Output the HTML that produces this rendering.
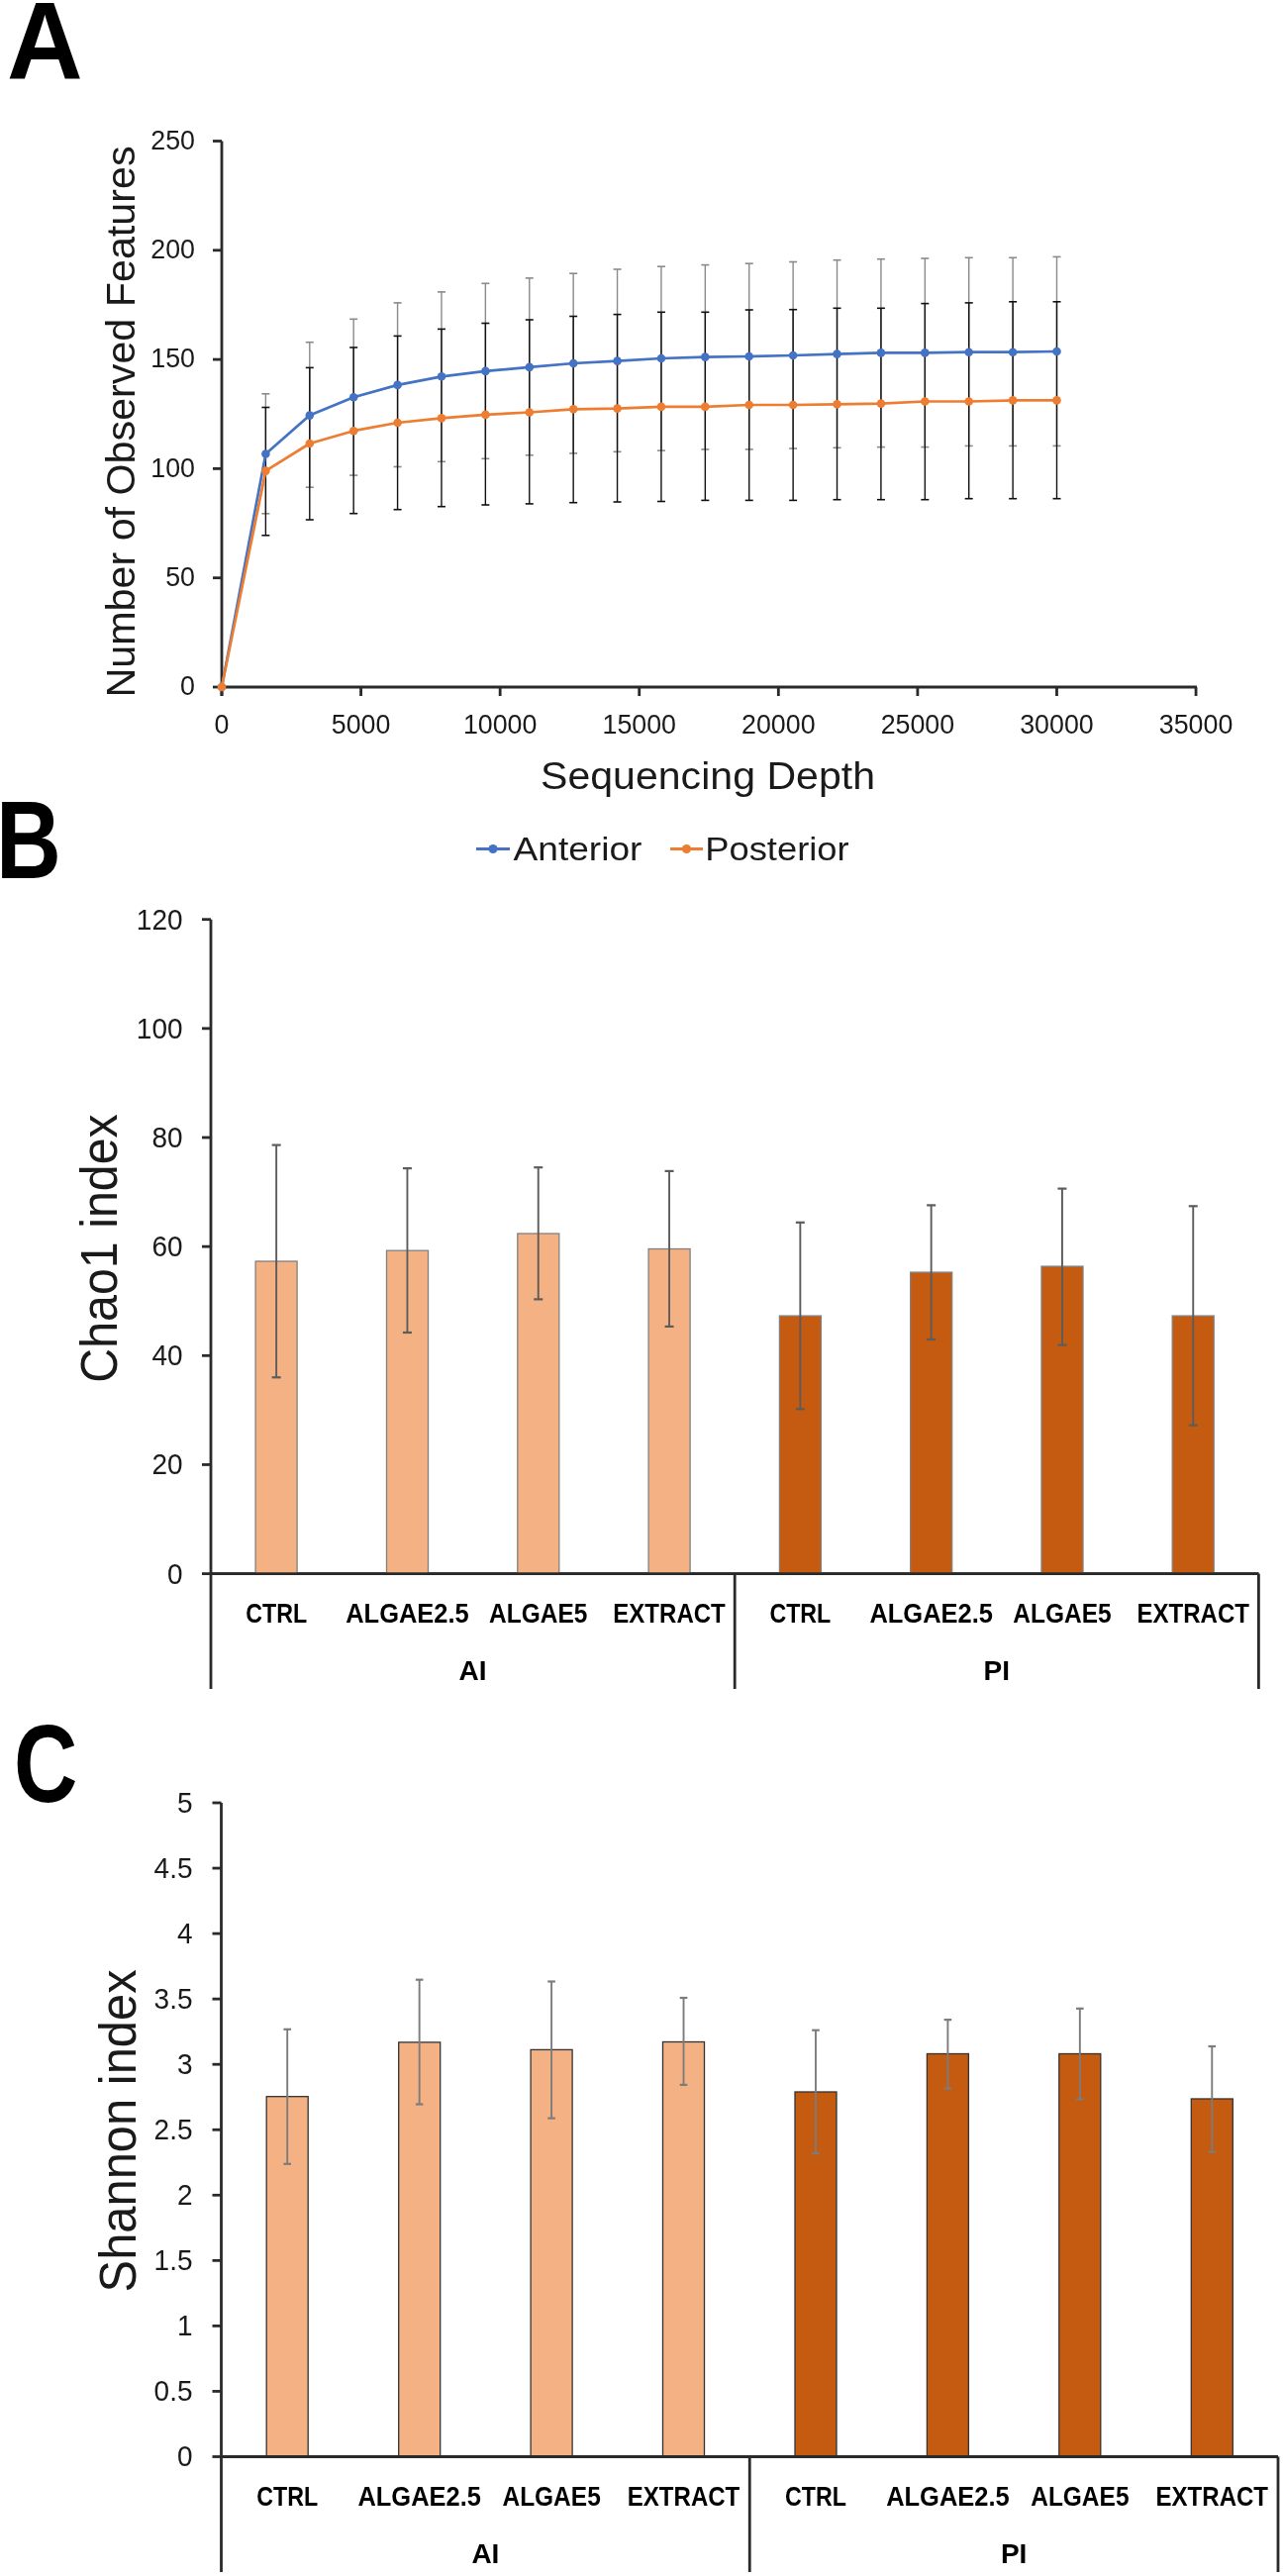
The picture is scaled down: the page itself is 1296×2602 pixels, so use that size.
<!DOCTYPE html>
<html><head><meta charset="utf-8"><title>Figure</title>
<style>
html,body{margin:0;padding:0;background:#fff;}
svg{display:block;will-change:transform;font-family:"Liberation Sans", sans-serif;}
</style></head>
<body>
<svg width="1296" height="2602" viewBox="0 0 1296 2602">
<rect x="0" y="0" width="1296" height="2602" fill="#fff"/>
<text font-size="112" text-anchor="start" fill="#000" font-weight="bold" transform="translate(7.00 80.00) scale(0.9480 1)">A</text>
<text font-size="112" text-anchor="start" fill="#000" font-weight="bold" transform="translate(-4.00 887.00) scale(0.8140 1)">B</text>
<text font-size="110.5" text-anchor="start" fill="#000" font-weight="bold" transform="translate(14.00 1820.00) scale(0.8070 1)">C</text>
<line x1="224.00" y1="142.50" x2="224.00" y2="703.00" stroke="#2a2a2a" stroke-width="2.8"/>
<line x1="224.00" y1="694.00" x2="1209.00" y2="694.00" stroke="#2a2a2a" stroke-width="2.8"/>
<line x1="215.00" y1="694.00" x2="224.00" y2="694.00" stroke="#2a2a2a" stroke-width="2.8"/>
<text font-size="27.8" text-anchor="end" fill="#1a1a1a" transform="translate(197.00 702.20) scale(0.9650 1)">0</text>
<line x1="215.00" y1="583.70" x2="224.00" y2="583.70" stroke="#2a2a2a" stroke-width="2.8"/>
<text font-size="27.8" text-anchor="end" fill="#1a1a1a" transform="translate(197.00 591.90) scale(0.9650 1)">50</text>
<line x1="215.00" y1="473.40" x2="224.00" y2="473.40" stroke="#2a2a2a" stroke-width="2.8"/>
<text font-size="27.8" text-anchor="end" fill="#1a1a1a" transform="translate(197.00 481.60) scale(0.9650 1)">100</text>
<line x1="215.00" y1="363.10" x2="224.00" y2="363.10" stroke="#2a2a2a" stroke-width="2.8"/>
<text font-size="27.8" text-anchor="end" fill="#1a1a1a" transform="translate(197.00 371.30) scale(0.9650 1)">150</text>
<line x1="215.00" y1="252.80" x2="224.00" y2="252.80" stroke="#2a2a2a" stroke-width="2.8"/>
<text font-size="27.8" text-anchor="end" fill="#1a1a1a" transform="translate(197.00 261.00) scale(0.9650 1)">200</text>
<line x1="215.00" y1="142.50" x2="224.00" y2="142.50" stroke="#2a2a2a" stroke-width="2.8"/>
<text font-size="27.8" text-anchor="end" fill="#1a1a1a" transform="translate(197.00 150.70) scale(0.9650 1)">250</text>
<line x1="224.00" y1="694.00" x2="224.00" y2="703.00" stroke="#2a2a2a" stroke-width="2.8"/>
<text font-size="27.8" text-anchor="middle" fill="#1a1a1a" transform="translate(224.00 741.00) scale(0.9650 1)">0</text>
<line x1="364.58" y1="694.00" x2="364.58" y2="703.00" stroke="#2a2a2a" stroke-width="2.8"/>
<text font-size="27.8" text-anchor="middle" fill="#1a1a1a" transform="translate(364.58 741.00) scale(0.9650 1)">5000</text>
<line x1="505.16" y1="694.00" x2="505.16" y2="703.00" stroke="#2a2a2a" stroke-width="2.8"/>
<text font-size="27.8" text-anchor="middle" fill="#1a1a1a" transform="translate(505.16 741.00) scale(0.9650 1)">10000</text>
<line x1="645.74" y1="694.00" x2="645.74" y2="703.00" stroke="#2a2a2a" stroke-width="2.8"/>
<text font-size="27.8" text-anchor="middle" fill="#1a1a1a" transform="translate(645.74 741.00) scale(0.9650 1)">15000</text>
<line x1="786.32" y1="694.00" x2="786.32" y2="703.00" stroke="#2a2a2a" stroke-width="2.8"/>
<text font-size="27.8" text-anchor="middle" fill="#1a1a1a" transform="translate(786.32 741.00) scale(0.9650 1)">20000</text>
<line x1="926.90" y1="694.00" x2="926.90" y2="703.00" stroke="#2a2a2a" stroke-width="2.8"/>
<text font-size="27.8" text-anchor="middle" fill="#1a1a1a" transform="translate(926.90 741.00) scale(0.9650 1)">25000</text>
<line x1="1067.48" y1="694.00" x2="1067.48" y2="703.00" stroke="#2a2a2a" stroke-width="2.8"/>
<text font-size="27.8" text-anchor="middle" fill="#1a1a1a" transform="translate(1067.48 741.00) scale(0.9650 1)">30000</text>
<line x1="1208.06" y1="694.00" x2="1208.06" y2="703.00" stroke="#2a2a2a" stroke-width="2.8"/>
<text font-size="27.8" text-anchor="middle" fill="#1a1a1a" transform="translate(1208.06 741.00) scale(0.9650 1)">35000</text>
<line x1="268.39" y1="397.80" x2="268.39" y2="518.80" stroke="#8a8a8a" stroke-width="1.4"/>
<line x1="264.39" y1="397.80" x2="272.39" y2="397.80" stroke="#8a8a8a" stroke-width="1.6"/>
<line x1="264.39" y1="518.80" x2="272.39" y2="518.80" stroke="#8a8a8a" stroke-width="1.6"/>
<line x1="312.79" y1="345.70" x2="312.79" y2="492.20" stroke="#8a8a8a" stroke-width="1.4"/>
<line x1="308.79" y1="345.70" x2="316.79" y2="345.70" stroke="#8a8a8a" stroke-width="1.6"/>
<line x1="308.79" y1="492.20" x2="316.79" y2="492.20" stroke="#8a8a8a" stroke-width="1.6"/>
<line x1="357.18" y1="322.30" x2="357.18" y2="480.10" stroke="#8a8a8a" stroke-width="1.4"/>
<line x1="353.18" y1="322.30" x2="361.18" y2="322.30" stroke="#8a8a8a" stroke-width="1.6"/>
<line x1="353.18" y1="480.10" x2="361.18" y2="480.10" stroke="#8a8a8a" stroke-width="1.6"/>
<line x1="401.58" y1="305.90" x2="401.58" y2="471.50" stroke="#8a8a8a" stroke-width="1.4"/>
<line x1="397.58" y1="305.90" x2="405.58" y2="305.90" stroke="#8a8a8a" stroke-width="1.6"/>
<line x1="397.58" y1="471.50" x2="405.58" y2="471.50" stroke="#8a8a8a" stroke-width="1.6"/>
<line x1="445.97" y1="294.90" x2="445.97" y2="466.30" stroke="#8a8a8a" stroke-width="1.4"/>
<line x1="441.97" y1="294.90" x2="449.97" y2="294.90" stroke="#8a8a8a" stroke-width="1.6"/>
<line x1="441.97" y1="466.30" x2="449.97" y2="466.30" stroke="#8a8a8a" stroke-width="1.6"/>
<line x1="490.37" y1="286.30" x2="490.37" y2="463.30" stroke="#8a8a8a" stroke-width="1.4"/>
<line x1="486.37" y1="286.30" x2="494.37" y2="286.30" stroke="#8a8a8a" stroke-width="1.6"/>
<line x1="486.37" y1="463.30" x2="494.37" y2="463.30" stroke="#8a8a8a" stroke-width="1.6"/>
<line x1="534.76" y1="280.90" x2="534.76" y2="459.80" stroke="#8a8a8a" stroke-width="1.4"/>
<line x1="530.76" y1="280.90" x2="538.76" y2="280.90" stroke="#8a8a8a" stroke-width="1.6"/>
<line x1="530.76" y1="459.80" x2="538.76" y2="459.80" stroke="#8a8a8a" stroke-width="1.6"/>
<line x1="579.16" y1="276.20" x2="579.16" y2="457.90" stroke="#8a8a8a" stroke-width="1.4"/>
<line x1="575.16" y1="276.20" x2="583.16" y2="276.20" stroke="#8a8a8a" stroke-width="1.6"/>
<line x1="575.16" y1="457.90" x2="583.16" y2="457.90" stroke="#8a8a8a" stroke-width="1.6"/>
<line x1="623.55" y1="272.00" x2="623.55" y2="456.30" stroke="#8a8a8a" stroke-width="1.4"/>
<line x1="619.55" y1="272.00" x2="627.55" y2="272.00" stroke="#8a8a8a" stroke-width="1.6"/>
<line x1="619.55" y1="456.30" x2="627.55" y2="456.30" stroke="#8a8a8a" stroke-width="1.6"/>
<line x1="667.95" y1="269.20" x2="667.95" y2="455.10" stroke="#8a8a8a" stroke-width="1.4"/>
<line x1="663.95" y1="269.20" x2="671.95" y2="269.20" stroke="#8a8a8a" stroke-width="1.6"/>
<line x1="663.95" y1="455.10" x2="671.95" y2="455.10" stroke="#8a8a8a" stroke-width="1.6"/>
<line x1="712.34" y1="267.60" x2="712.34" y2="453.90" stroke="#8a8a8a" stroke-width="1.4"/>
<line x1="708.34" y1="267.60" x2="716.34" y2="267.60" stroke="#8a8a8a" stroke-width="1.6"/>
<line x1="708.34" y1="453.90" x2="716.34" y2="453.90" stroke="#8a8a8a" stroke-width="1.6"/>
<line x1="756.74" y1="266.20" x2="756.74" y2="453.90" stroke="#8a8a8a" stroke-width="1.4"/>
<line x1="752.74" y1="266.20" x2="760.74" y2="266.20" stroke="#8a8a8a" stroke-width="1.6"/>
<line x1="752.74" y1="453.90" x2="760.74" y2="453.90" stroke="#8a8a8a" stroke-width="1.6"/>
<line x1="801.13" y1="264.50" x2="801.13" y2="453.00" stroke="#8a8a8a" stroke-width="1.4"/>
<line x1="797.13" y1="264.50" x2="805.13" y2="264.50" stroke="#8a8a8a" stroke-width="1.6"/>
<line x1="797.13" y1="453.00" x2="805.13" y2="453.00" stroke="#8a8a8a" stroke-width="1.6"/>
<line x1="845.53" y1="262.70" x2="845.53" y2="452.30" stroke="#8a8a8a" stroke-width="1.4"/>
<line x1="841.53" y1="262.70" x2="849.53" y2="262.70" stroke="#8a8a8a" stroke-width="1.6"/>
<line x1="841.53" y1="452.30" x2="849.53" y2="452.30" stroke="#8a8a8a" stroke-width="1.6"/>
<line x1="889.92" y1="261.70" x2="889.92" y2="451.60" stroke="#8a8a8a" stroke-width="1.4"/>
<line x1="885.92" y1="261.70" x2="893.92" y2="261.70" stroke="#8a8a8a" stroke-width="1.6"/>
<line x1="885.92" y1="451.60" x2="893.92" y2="451.60" stroke="#8a8a8a" stroke-width="1.6"/>
<line x1="934.32" y1="261.00" x2="934.32" y2="451.60" stroke="#8a8a8a" stroke-width="1.4"/>
<line x1="930.32" y1="261.00" x2="938.32" y2="261.00" stroke="#8a8a8a" stroke-width="1.6"/>
<line x1="930.32" y1="451.60" x2="938.32" y2="451.60" stroke="#8a8a8a" stroke-width="1.6"/>
<line x1="978.71" y1="260.30" x2="978.71" y2="450.40" stroke="#8a8a8a" stroke-width="1.4"/>
<line x1="974.71" y1="260.30" x2="982.71" y2="260.30" stroke="#8a8a8a" stroke-width="1.6"/>
<line x1="974.71" y1="450.40" x2="982.71" y2="450.40" stroke="#8a8a8a" stroke-width="1.6"/>
<line x1="1023.11" y1="260.30" x2="1023.11" y2="450.40" stroke="#8a8a8a" stroke-width="1.4"/>
<line x1="1019.11" y1="260.30" x2="1027.11" y2="260.30" stroke="#8a8a8a" stroke-width="1.6"/>
<line x1="1019.11" y1="450.40" x2="1027.11" y2="450.40" stroke="#8a8a8a" stroke-width="1.6"/>
<line x1="1067.50" y1="259.40" x2="1067.50" y2="450.40" stroke="#8a8a8a" stroke-width="1.4"/>
<line x1="1063.50" y1="259.40" x2="1071.50" y2="259.40" stroke="#8a8a8a" stroke-width="1.6"/>
<line x1="1063.50" y1="450.40" x2="1071.50" y2="450.40" stroke="#8a8a8a" stroke-width="1.6"/>
<line x1="268.39" y1="411.50" x2="268.39" y2="540.80" stroke="#111" stroke-width="1.4"/>
<line x1="264.39" y1="411.50" x2="272.39" y2="411.50" stroke="#111" stroke-width="1.6"/>
<line x1="264.39" y1="540.80" x2="272.39" y2="540.80" stroke="#111" stroke-width="1.6"/>
<line x1="312.79" y1="371.40" x2="312.79" y2="525.00" stroke="#111" stroke-width="1.4"/>
<line x1="308.79" y1="371.40" x2="316.79" y2="371.40" stroke="#111" stroke-width="1.6"/>
<line x1="308.79" y1="525.00" x2="316.79" y2="525.00" stroke="#111" stroke-width="1.6"/>
<line x1="357.18" y1="351.00" x2="357.18" y2="518.70" stroke="#111" stroke-width="1.4"/>
<line x1="353.18" y1="351.00" x2="361.18" y2="351.00" stroke="#111" stroke-width="1.6"/>
<line x1="353.18" y1="518.70" x2="361.18" y2="518.70" stroke="#111" stroke-width="1.6"/>
<line x1="401.58" y1="339.40" x2="401.58" y2="514.70" stroke="#111" stroke-width="1.4"/>
<line x1="397.58" y1="339.40" x2="405.58" y2="339.40" stroke="#111" stroke-width="1.6"/>
<line x1="397.58" y1="514.70" x2="405.58" y2="514.70" stroke="#111" stroke-width="1.6"/>
<line x1="445.97" y1="332.40" x2="445.97" y2="511.70" stroke="#111" stroke-width="1.4"/>
<line x1="441.97" y1="332.40" x2="449.97" y2="332.40" stroke="#111" stroke-width="1.6"/>
<line x1="441.97" y1="511.70" x2="449.97" y2="511.70" stroke="#111" stroke-width="1.6"/>
<line x1="490.37" y1="326.50" x2="490.37" y2="510.00" stroke="#111" stroke-width="1.4"/>
<line x1="486.37" y1="326.50" x2="494.37" y2="326.50" stroke="#111" stroke-width="1.6"/>
<line x1="486.37" y1="510.00" x2="494.37" y2="510.00" stroke="#111" stroke-width="1.6"/>
<line x1="534.76" y1="323.00" x2="534.76" y2="508.90" stroke="#111" stroke-width="1.4"/>
<line x1="530.76" y1="323.00" x2="538.76" y2="323.00" stroke="#111" stroke-width="1.6"/>
<line x1="530.76" y1="508.90" x2="538.76" y2="508.90" stroke="#111" stroke-width="1.6"/>
<line x1="579.16" y1="319.50" x2="579.16" y2="507.70" stroke="#111" stroke-width="1.4"/>
<line x1="575.16" y1="319.50" x2="583.16" y2="319.50" stroke="#111" stroke-width="1.6"/>
<line x1="575.16" y1="507.70" x2="583.16" y2="507.70" stroke="#111" stroke-width="1.6"/>
<line x1="623.55" y1="317.60" x2="623.55" y2="507.00" stroke="#111" stroke-width="1.4"/>
<line x1="619.55" y1="317.60" x2="627.55" y2="317.60" stroke="#111" stroke-width="1.6"/>
<line x1="619.55" y1="507.00" x2="627.55" y2="507.00" stroke="#111" stroke-width="1.6"/>
<line x1="667.95" y1="315.30" x2="667.95" y2="506.50" stroke="#111" stroke-width="1.4"/>
<line x1="663.95" y1="315.30" x2="671.95" y2="315.30" stroke="#111" stroke-width="1.6"/>
<line x1="663.95" y1="506.50" x2="671.95" y2="506.50" stroke="#111" stroke-width="1.6"/>
<line x1="712.34" y1="315.30" x2="712.34" y2="505.40" stroke="#111" stroke-width="1.4"/>
<line x1="708.34" y1="315.30" x2="716.34" y2="315.30" stroke="#111" stroke-width="1.6"/>
<line x1="708.34" y1="505.40" x2="716.34" y2="505.40" stroke="#111" stroke-width="1.6"/>
<line x1="756.74" y1="313.00" x2="756.74" y2="505.40" stroke="#111" stroke-width="1.4"/>
<line x1="752.74" y1="313.00" x2="760.74" y2="313.00" stroke="#111" stroke-width="1.6"/>
<line x1="752.74" y1="505.40" x2="760.74" y2="505.40" stroke="#111" stroke-width="1.6"/>
<line x1="801.13" y1="312.70" x2="801.13" y2="505.40" stroke="#111" stroke-width="1.4"/>
<line x1="797.13" y1="312.70" x2="805.13" y2="312.70" stroke="#111" stroke-width="1.6"/>
<line x1="797.13" y1="505.40" x2="805.13" y2="505.40" stroke="#111" stroke-width="1.6"/>
<line x1="845.53" y1="311.30" x2="845.53" y2="504.70" stroke="#111" stroke-width="1.4"/>
<line x1="841.53" y1="311.30" x2="849.53" y2="311.30" stroke="#111" stroke-width="1.6"/>
<line x1="841.53" y1="504.70" x2="849.53" y2="504.70" stroke="#111" stroke-width="1.6"/>
<line x1="889.92" y1="311.30" x2="889.92" y2="504.70" stroke="#111" stroke-width="1.4"/>
<line x1="885.92" y1="311.30" x2="893.92" y2="311.30" stroke="#111" stroke-width="1.6"/>
<line x1="885.92" y1="504.70" x2="893.92" y2="504.70" stroke="#111" stroke-width="1.6"/>
<line x1="934.32" y1="306.60" x2="934.32" y2="504.70" stroke="#111" stroke-width="1.4"/>
<line x1="930.32" y1="306.60" x2="938.32" y2="306.60" stroke="#111" stroke-width="1.6"/>
<line x1="930.32" y1="504.70" x2="938.32" y2="504.70" stroke="#111" stroke-width="1.6"/>
<line x1="978.71" y1="305.90" x2="978.71" y2="503.70" stroke="#111" stroke-width="1.4"/>
<line x1="974.71" y1="305.90" x2="982.71" y2="305.90" stroke="#111" stroke-width="1.6"/>
<line x1="974.71" y1="503.70" x2="982.71" y2="503.70" stroke="#111" stroke-width="1.6"/>
<line x1="1023.11" y1="304.80" x2="1023.11" y2="503.70" stroke="#111" stroke-width="1.4"/>
<line x1="1019.11" y1="304.80" x2="1027.11" y2="304.80" stroke="#111" stroke-width="1.6"/>
<line x1="1019.11" y1="503.70" x2="1027.11" y2="503.70" stroke="#111" stroke-width="1.6"/>
<line x1="1067.50" y1="304.80" x2="1067.50" y2="503.70" stroke="#111" stroke-width="1.4"/>
<line x1="1063.50" y1="304.80" x2="1071.50" y2="304.80" stroke="#111" stroke-width="1.6"/>
<line x1="1063.50" y1="503.70" x2="1071.50" y2="503.70" stroke="#111" stroke-width="1.6"/>
<polyline points="224.0,694.0 268.4,458.5 312.8,419.6 357.2,401.3 401.6,388.9 446.0,380.3 490.4,374.9 534.8,370.9 579.2,367.0 623.6,364.6 667.9,362.0 712.3,360.6 756.7,360.0 801.1,359.0 845.5,357.6 889.9,356.4 934.3,356.4 978.7,355.7 1023.1,355.7 1067.5,355.0" fill="none" stroke="#4472C4" stroke-width="2.7" stroke-linejoin="round"/>
<circle cx="224.0" cy="694.0" r="4.3" fill="#4472C4"/>
<circle cx="268.4" cy="458.5" r="4.3" fill="#4472C4"/>
<circle cx="312.8" cy="419.6" r="4.3" fill="#4472C4"/>
<circle cx="357.2" cy="401.3" r="4.3" fill="#4472C4"/>
<circle cx="401.6" cy="388.9" r="4.3" fill="#4472C4"/>
<circle cx="446.0" cy="380.3" r="4.3" fill="#4472C4"/>
<circle cx="490.4" cy="374.9" r="4.3" fill="#4472C4"/>
<circle cx="534.8" cy="370.9" r="4.3" fill="#4472C4"/>
<circle cx="579.2" cy="367.0" r="4.3" fill="#4472C4"/>
<circle cx="623.6" cy="364.6" r="4.3" fill="#4472C4"/>
<circle cx="667.9" cy="362.0" r="4.3" fill="#4472C4"/>
<circle cx="712.3" cy="360.6" r="4.3" fill="#4472C4"/>
<circle cx="756.7" cy="360.0" r="4.3" fill="#4472C4"/>
<circle cx="801.1" cy="359.0" r="4.3" fill="#4472C4"/>
<circle cx="845.5" cy="357.6" r="4.3" fill="#4472C4"/>
<circle cx="889.9" cy="356.4" r="4.3" fill="#4472C4"/>
<circle cx="934.3" cy="356.4" r="4.3" fill="#4472C4"/>
<circle cx="978.7" cy="355.7" r="4.3" fill="#4472C4"/>
<circle cx="1023.1" cy="355.7" r="4.3" fill="#4472C4"/>
<circle cx="1067.5" cy="355.0" r="4.3" fill="#4472C4"/>
<polyline points="224.0,694.0 268.4,475.6 312.8,448.0 357.2,435.2 401.6,427.0 446.0,422.4 490.4,418.9 534.8,416.5 579.2,413.3 623.6,412.6 667.9,410.9 712.3,410.9 756.7,409.0 801.1,409.0 845.5,408.3 889.9,407.6 934.3,405.5 978.7,405.5 1023.1,404.4 1067.5,404.4" fill="none" stroke="#ED7D31" stroke-width="2.7" stroke-linejoin="round"/>
<circle cx="224.0" cy="694.0" r="4.3" fill="#ED7D31"/>
<circle cx="268.4" cy="475.6" r="4.3" fill="#ED7D31"/>
<circle cx="312.8" cy="448.0" r="4.3" fill="#ED7D31"/>
<circle cx="357.2" cy="435.2" r="4.3" fill="#ED7D31"/>
<circle cx="401.6" cy="427.0" r="4.3" fill="#ED7D31"/>
<circle cx="446.0" cy="422.4" r="4.3" fill="#ED7D31"/>
<circle cx="490.4" cy="418.9" r="4.3" fill="#ED7D31"/>
<circle cx="534.8" cy="416.5" r="4.3" fill="#ED7D31"/>
<circle cx="579.2" cy="413.3" r="4.3" fill="#ED7D31"/>
<circle cx="623.6" cy="412.6" r="4.3" fill="#ED7D31"/>
<circle cx="667.9" cy="410.9" r="4.3" fill="#ED7D31"/>
<circle cx="712.3" cy="410.9" r="4.3" fill="#ED7D31"/>
<circle cx="756.7" cy="409.0" r="4.3" fill="#ED7D31"/>
<circle cx="801.1" cy="409.0" r="4.3" fill="#ED7D31"/>
<circle cx="845.5" cy="408.3" r="4.3" fill="#ED7D31"/>
<circle cx="889.9" cy="407.6" r="4.3" fill="#ED7D31"/>
<circle cx="934.3" cy="405.5" r="4.3" fill="#ED7D31"/>
<circle cx="978.7" cy="405.5" r="4.3" fill="#ED7D31"/>
<circle cx="1023.1" cy="404.4" r="4.3" fill="#ED7D31"/>
<circle cx="1067.5" cy="404.4" r="4.3" fill="#ED7D31"/>
<text font-size="40" text-anchor="middle" fill="#1a1a1a" textLength="557" lengthAdjust="spacingAndGlyphs" transform="translate(136.00 426.00) rotate(-90)">Number of Observed Features</text>
<text font-size="39" text-anchor="middle" fill="#1a1a1a" textLength="338" lengthAdjust="spacingAndGlyphs" transform="translate(715.00 796.70)">Sequencing Depth</text>
<line x1="481.00" y1="857.50" x2="515.00" y2="857.50" stroke="#4472C4" stroke-width="3"/>
<circle cx="498" cy="857.5" r="4.6" fill="#4472C4"/>
<text font-size="34" text-anchor="start" fill="#1a1a1a" textLength="130" lengthAdjust="spacingAndGlyphs" transform="translate(518.50 869.00)">Anterior</text>
<line x1="677.00" y1="857.50" x2="710.00" y2="857.50" stroke="#ED7D31" stroke-width="3"/>
<circle cx="693.5" cy="857.5" r="4.6" fill="#ED7D31"/>
<text font-size="34" text-anchor="start" fill="#1a1a1a" textLength="145.5" lengthAdjust="spacingAndGlyphs" transform="translate(712.20 869.00)">Posterior</text>
<line x1="213.00" y1="928.70" x2="213.00" y2="1706.00" stroke="#2a2a2a" stroke-width="2.8"/>
<line x1="213.00" y1="1589.60" x2="1271.40" y2="1589.60" stroke="#2a2a2a" stroke-width="2.8"/>
<line x1="1271.40" y1="1589.60" x2="1271.40" y2="1706.00" stroke="#2a2a2a" stroke-width="2.8"/>
<line x1="742.20" y1="1589.60" x2="742.20" y2="1706.00" stroke="#2a2a2a" stroke-width="2.8"/>
<line x1="204.00" y1="1589.60" x2="213.00" y2="1589.60" stroke="#2a2a2a" stroke-width="2.8"/>
<text font-size="29" text-anchor="end" fill="#1a1a1a" transform="translate(184.50 1599.60) scale(0.9650 1)">0</text>
<line x1="204.00" y1="1479.45" x2="213.00" y2="1479.45" stroke="#2a2a2a" stroke-width="2.8"/>
<text font-size="29" text-anchor="end" fill="#1a1a1a" transform="translate(184.50 1489.45) scale(0.9650 1)">20</text>
<line x1="204.00" y1="1369.30" x2="213.00" y2="1369.30" stroke="#2a2a2a" stroke-width="2.8"/>
<text font-size="29" text-anchor="end" fill="#1a1a1a" transform="translate(184.50 1379.30) scale(0.9650 1)">40</text>
<line x1="204.00" y1="1259.15" x2="213.00" y2="1259.15" stroke="#2a2a2a" stroke-width="2.8"/>
<text font-size="29" text-anchor="end" fill="#1a1a1a" transform="translate(184.50 1269.15) scale(0.9650 1)">60</text>
<line x1="204.00" y1="1149.00" x2="213.00" y2="1149.00" stroke="#2a2a2a" stroke-width="2.8"/>
<text font-size="29" text-anchor="end" fill="#1a1a1a" transform="translate(184.50 1159.00) scale(0.9650 1)">80</text>
<line x1="204.00" y1="1038.85" x2="213.00" y2="1038.85" stroke="#2a2a2a" stroke-width="2.8"/>
<text font-size="29" text-anchor="end" fill="#1a1a1a" transform="translate(184.50 1048.85) scale(0.9650 1)">100</text>
<line x1="204.00" y1="928.70" x2="213.00" y2="928.70" stroke="#2a2a2a" stroke-width="2.8"/>
<text font-size="29" text-anchor="end" fill="#1a1a1a" transform="translate(184.50 938.70) scale(0.9650 1)">120</text>
<rect x="258.1" y="1274.0" width="42" height="315.6" fill="#F4B183" stroke="#808080" stroke-width="1.3"/>
<rect x="390.5" y="1263.2" width="42" height="326.4" fill="#F4B183" stroke="#808080" stroke-width="1.3"/>
<rect x="522.8" y="1246.0" width="42" height="343.6" fill="#F4B183" stroke="#808080" stroke-width="1.3"/>
<rect x="655.1" y="1261.5" width="42" height="328.1" fill="#F4B183" stroke="#808080" stroke-width="1.3"/>
<rect x="787.4" y="1329.1" width="42" height="260.5" fill="#C55A11" stroke="#808080" stroke-width="1.3"/>
<rect x="919.7" y="1285.1" width="42" height="304.5" fill="#C55A11" stroke="#808080" stroke-width="1.3"/>
<rect x="1052.0" y="1279.1" width="42" height="310.5" fill="#C55A11" stroke="#808080" stroke-width="1.3"/>
<rect x="1184.2" y="1329.1" width="42" height="260.5" fill="#C55A11" stroke="#808080" stroke-width="1.3"/>
<line x1="279.15" y1="1156.60" x2="279.15" y2="1391.30" stroke="#5c5c5c" stroke-width="1.9"/>
<line x1="274.65" y1="1156.60" x2="283.65" y2="1156.60" stroke="#5c5c5c" stroke-width="2.2"/>
<line x1="274.65" y1="1391.30" x2="283.65" y2="1391.30" stroke="#5c5c5c" stroke-width="2.2"/>
<line x1="411.45" y1="1180.10" x2="411.45" y2="1346.00" stroke="#5c5c5c" stroke-width="1.9"/>
<line x1="406.95" y1="1180.10" x2="415.95" y2="1180.10" stroke="#5c5c5c" stroke-width="2.2"/>
<line x1="406.95" y1="1346.00" x2="415.95" y2="1346.00" stroke="#5c5c5c" stroke-width="2.2"/>
<line x1="543.75" y1="1179.20" x2="543.75" y2="1312.40" stroke="#5c5c5c" stroke-width="1.9"/>
<line x1="539.25" y1="1179.20" x2="548.25" y2="1179.20" stroke="#5c5c5c" stroke-width="2.2"/>
<line x1="539.25" y1="1312.40" x2="548.25" y2="1312.40" stroke="#5c5c5c" stroke-width="2.2"/>
<line x1="676.05" y1="1182.90" x2="676.05" y2="1339.90" stroke="#5c5c5c" stroke-width="1.9"/>
<line x1="671.55" y1="1182.90" x2="680.55" y2="1182.90" stroke="#5c5c5c" stroke-width="2.2"/>
<line x1="671.55" y1="1339.90" x2="680.55" y2="1339.90" stroke="#5c5c5c" stroke-width="2.2"/>
<line x1="808.35" y1="1234.80" x2="808.35" y2="1423.30" stroke="#5c5c5c" stroke-width="1.9"/>
<line x1="803.85" y1="1234.80" x2="812.85" y2="1234.80" stroke="#5c5c5c" stroke-width="2.2"/>
<line x1="803.85" y1="1423.30" x2="812.85" y2="1423.30" stroke="#5c5c5c" stroke-width="2.2"/>
<line x1="940.65" y1="1217.40" x2="940.65" y2="1353.00" stroke="#5c5c5c" stroke-width="1.9"/>
<line x1="936.15" y1="1217.40" x2="945.15" y2="1217.40" stroke="#5c5c5c" stroke-width="2.2"/>
<line x1="936.15" y1="1353.00" x2="945.15" y2="1353.00" stroke="#5c5c5c" stroke-width="2.2"/>
<line x1="1072.95" y1="1200.60" x2="1072.95" y2="1358.60" stroke="#5c5c5c" stroke-width="1.9"/>
<line x1="1068.45" y1="1200.60" x2="1077.45" y2="1200.60" stroke="#5c5c5c" stroke-width="2.2"/>
<line x1="1068.45" y1="1358.60" x2="1077.45" y2="1358.60" stroke="#5c5c5c" stroke-width="2.2"/>
<line x1="1205.25" y1="1218.30" x2="1205.25" y2="1439.70" stroke="#5c5c5c" stroke-width="1.9"/>
<line x1="1200.75" y1="1218.30" x2="1209.75" y2="1218.30" stroke="#5c5c5c" stroke-width="2.2"/>
<line x1="1200.75" y1="1439.70" x2="1209.75" y2="1439.70" stroke="#5c5c5c" stroke-width="2.2"/>
<line x1="213.00" y1="1589.60" x2="1271.40" y2="1589.60" stroke="#2a2a2a" stroke-width="2.8"/>
<text font-size="28" text-anchor="middle" fill="#000" font-weight="bold" textLength="61.9" lengthAdjust="spacingAndGlyphs" transform="translate(279.15 1639.20)">CTRL</text>
<text font-size="28" text-anchor="middle" fill="#000" font-weight="bold" textLength="124.5" lengthAdjust="spacingAndGlyphs" transform="translate(411.45 1639.20)">ALGAE2.5</text>
<text font-size="28" text-anchor="middle" fill="#000" font-weight="bold" textLength="99.3" lengthAdjust="spacingAndGlyphs" transform="translate(543.75 1639.20)">ALGAE5</text>
<text font-size="28" text-anchor="middle" fill="#000" font-weight="bold" textLength="113.5" lengthAdjust="spacingAndGlyphs" transform="translate(676.05 1639.20)">EXTRACT</text>
<text font-size="28" text-anchor="middle" fill="#000" font-weight="bold" textLength="61.9" lengthAdjust="spacingAndGlyphs" transform="translate(808.35 1639.20)">CTRL</text>
<text font-size="28" text-anchor="middle" fill="#000" font-weight="bold" textLength="124.5" lengthAdjust="spacingAndGlyphs" transform="translate(940.65 1639.20)">ALGAE2.5</text>
<text font-size="28" text-anchor="middle" fill="#000" font-weight="bold" textLength="99.3" lengthAdjust="spacingAndGlyphs" transform="translate(1072.95 1639.20)">ALGAE5</text>
<text font-size="28" text-anchor="middle" fill="#000" font-weight="bold" textLength="113.5" lengthAdjust="spacingAndGlyphs" transform="translate(1205.25 1639.20)">EXTRACT</text>
<text font-size="28" text-anchor="middle" fill="#000" font-weight="bold" transform="translate(477.60 1697.30)">AI</text>
<text font-size="28" text-anchor="middle" fill="#000" font-weight="bold" transform="translate(1006.80 1697.30)">PI</text>
<text font-size="51.5" text-anchor="middle" fill="#1a1a1a" textLength="271.5" lengthAdjust="spacingAndGlyphs" transform="translate(118.00 1261.00) rotate(-90)">Chao1 index</text>
<line x1="223.50" y1="1821.00" x2="223.50" y2="2598.00" stroke="#2a2a2a" stroke-width="2.8"/>
<line x1="223.50" y1="2481.50" x2="1291.00" y2="2481.50" stroke="#2a2a2a" stroke-width="2.8"/>
<line x1="1291.00" y1="2481.50" x2="1291.00" y2="2598.00" stroke="#2a2a2a" stroke-width="2.8"/>
<line x1="757.25" y1="2481.50" x2="757.25" y2="2598.00" stroke="#2a2a2a" stroke-width="2.8"/>
<line x1="214.50" y1="2481.50" x2="223.50" y2="2481.50" stroke="#2a2a2a" stroke-width="2.8"/>
<text font-size="29" text-anchor="end" fill="#1a1a1a" transform="translate(194.50 2491.00) scale(0.9650 1)">0</text>
<line x1="214.50" y1="2415.45" x2="223.50" y2="2415.45" stroke="#2a2a2a" stroke-width="2.8"/>
<text font-size="29" text-anchor="end" fill="#1a1a1a" transform="translate(194.50 2424.95) scale(0.9650 1)">0.5</text>
<line x1="214.50" y1="2349.40" x2="223.50" y2="2349.40" stroke="#2a2a2a" stroke-width="2.8"/>
<text font-size="29" text-anchor="end" fill="#1a1a1a" transform="translate(194.50 2358.90) scale(0.9650 1)">1</text>
<line x1="214.50" y1="2283.35" x2="223.50" y2="2283.35" stroke="#2a2a2a" stroke-width="2.8"/>
<text font-size="29" text-anchor="end" fill="#1a1a1a" transform="translate(194.50 2292.85) scale(0.9650 1)">1.5</text>
<line x1="214.50" y1="2217.30" x2="223.50" y2="2217.30" stroke="#2a2a2a" stroke-width="2.8"/>
<text font-size="29" text-anchor="end" fill="#1a1a1a" transform="translate(194.50 2226.80) scale(0.9650 1)">2</text>
<line x1="214.50" y1="2151.25" x2="223.50" y2="2151.25" stroke="#2a2a2a" stroke-width="2.8"/>
<text font-size="29" text-anchor="end" fill="#1a1a1a" transform="translate(194.50 2160.75) scale(0.9650 1)">2.5</text>
<line x1="214.50" y1="2085.20" x2="223.50" y2="2085.20" stroke="#2a2a2a" stroke-width="2.8"/>
<text font-size="29" text-anchor="end" fill="#1a1a1a" transform="translate(194.50 2094.70) scale(0.9650 1)">3</text>
<line x1="214.50" y1="2019.15" x2="223.50" y2="2019.15" stroke="#2a2a2a" stroke-width="2.8"/>
<text font-size="29" text-anchor="end" fill="#1a1a1a" transform="translate(194.50 2028.65) scale(0.9650 1)">3.5</text>
<line x1="214.50" y1="1953.10" x2="223.50" y2="1953.10" stroke="#2a2a2a" stroke-width="2.8"/>
<text font-size="29" text-anchor="end" fill="#1a1a1a" transform="translate(194.50 1962.60) scale(0.9650 1)">4</text>
<line x1="214.50" y1="1887.05" x2="223.50" y2="1887.05" stroke="#2a2a2a" stroke-width="2.8"/>
<text font-size="29" text-anchor="end" fill="#1a1a1a" transform="translate(194.50 1896.55) scale(0.9650 1)">4.5</text>
<line x1="214.50" y1="1821.00" x2="223.50" y2="1821.00" stroke="#2a2a2a" stroke-width="2.8"/>
<text font-size="29" text-anchor="end" fill="#1a1a1a" transform="translate(194.50 1830.50) scale(0.9650 1)">5</text>
<rect x="269.2" y="2117.7" width="42" height="363.8" fill="#F4B183" stroke="#333333" stroke-width="1.3"/>
<rect x="402.7" y="2062.9" width="42" height="418.6" fill="#F4B183" stroke="#333333" stroke-width="1.3"/>
<rect x="536.1" y="2070.4" width="42" height="411.1" fill="#F4B183" stroke="#333333" stroke-width="1.3"/>
<rect x="669.5" y="2062.5" width="42" height="419.0" fill="#F4B183" stroke="#333333" stroke-width="1.3"/>
<rect x="803.0" y="2113.0" width="42" height="368.5" fill="#C55A11" stroke="#333333" stroke-width="1.3"/>
<rect x="936.4" y="2074.5" width="42" height="407.0" fill="#C55A11" stroke="#333333" stroke-width="1.3"/>
<rect x="1069.8" y="2074.5" width="42" height="407.0" fill="#C55A11" stroke="#333333" stroke-width="1.3"/>
<rect x="1203.3" y="2120.0" width="42" height="361.5" fill="#C55A11" stroke="#333333" stroke-width="1.3"/>
<line x1="290.22" y1="2049.80" x2="290.22" y2="2185.80" stroke="#7c7c7c" stroke-width="1.9"/>
<line x1="286.42" y1="2049.80" x2="294.02" y2="2049.80" stroke="#7c7c7c" stroke-width="2.2"/>
<line x1="286.42" y1="2185.80" x2="294.02" y2="2185.80" stroke="#7c7c7c" stroke-width="2.2"/>
<line x1="423.66" y1="1999.70" x2="423.66" y2="2125.50" stroke="#7c7c7c" stroke-width="1.9"/>
<line x1="419.86" y1="1999.70" x2="427.46" y2="1999.70" stroke="#7c7c7c" stroke-width="2.2"/>
<line x1="419.86" y1="2125.50" x2="427.46" y2="2125.50" stroke="#7c7c7c" stroke-width="2.2"/>
<line x1="557.09" y1="2001.50" x2="557.09" y2="2139.60" stroke="#7c7c7c" stroke-width="1.9"/>
<line x1="553.29" y1="2001.50" x2="560.89" y2="2001.50" stroke="#7c7c7c" stroke-width="2.2"/>
<line x1="553.29" y1="2139.60" x2="560.89" y2="2139.60" stroke="#7c7c7c" stroke-width="2.2"/>
<line x1="690.53" y1="2018.00" x2="690.53" y2="2105.90" stroke="#7c7c7c" stroke-width="1.9"/>
<line x1="686.73" y1="2018.00" x2="694.33" y2="2018.00" stroke="#7c7c7c" stroke-width="2.2"/>
<line x1="686.73" y1="2105.90" x2="694.33" y2="2105.90" stroke="#7c7c7c" stroke-width="2.2"/>
<line x1="823.97" y1="2050.70" x2="823.97" y2="2175.10" stroke="#7c7c7c" stroke-width="1.9"/>
<line x1="820.17" y1="2050.70" x2="827.77" y2="2050.70" stroke="#7c7c7c" stroke-width="2.2"/>
<line x1="820.17" y1="2175.10" x2="827.77" y2="2175.10" stroke="#7c7c7c" stroke-width="2.2"/>
<line x1="957.41" y1="2040.10" x2="957.41" y2="2109.60" stroke="#7c7c7c" stroke-width="1.9"/>
<line x1="953.61" y1="2040.10" x2="961.21" y2="2040.10" stroke="#7c7c7c" stroke-width="2.2"/>
<line x1="953.61" y1="2109.60" x2="961.21" y2="2109.60" stroke="#7c7c7c" stroke-width="2.2"/>
<line x1="1090.84" y1="2028.80" x2="1090.84" y2="2120.50" stroke="#7c7c7c" stroke-width="1.9"/>
<line x1="1087.04" y1="2028.80" x2="1094.64" y2="2028.80" stroke="#7c7c7c" stroke-width="2.2"/>
<line x1="1087.04" y1="2120.50" x2="1094.64" y2="2120.50" stroke="#7c7c7c" stroke-width="2.2"/>
<line x1="1224.28" y1="2067.00" x2="1224.28" y2="2173.60" stroke="#7c7c7c" stroke-width="1.9"/>
<line x1="1220.48" y1="2067.00" x2="1228.08" y2="2067.00" stroke="#7c7c7c" stroke-width="2.2"/>
<line x1="1220.48" y1="2173.60" x2="1228.08" y2="2173.60" stroke="#7c7c7c" stroke-width="2.2"/>
<line x1="223.50" y1="2481.50" x2="1291.00" y2="2481.50" stroke="#2a2a2a" stroke-width="2.8"/>
<text font-size="28" text-anchor="middle" fill="#000" font-weight="bold" textLength="61.9" lengthAdjust="spacingAndGlyphs" transform="translate(290.22 2530.80)">CTRL</text>
<text font-size="28" text-anchor="middle" fill="#000" font-weight="bold" textLength="124.5" lengthAdjust="spacingAndGlyphs" transform="translate(423.66 2530.80)">ALGAE2.5</text>
<text font-size="28" text-anchor="middle" fill="#000" font-weight="bold" textLength="99.3" lengthAdjust="spacingAndGlyphs" transform="translate(557.09 2530.80)">ALGAE5</text>
<text font-size="28" text-anchor="middle" fill="#000" font-weight="bold" textLength="113.5" lengthAdjust="spacingAndGlyphs" transform="translate(690.53 2530.80)">EXTRACT</text>
<text font-size="28" text-anchor="middle" fill="#000" font-weight="bold" textLength="61.9" lengthAdjust="spacingAndGlyphs" transform="translate(823.97 2530.80)">CTRL</text>
<text font-size="28" text-anchor="middle" fill="#000" font-weight="bold" textLength="124.5" lengthAdjust="spacingAndGlyphs" transform="translate(957.41 2530.80)">ALGAE2.5</text>
<text font-size="28" text-anchor="middle" fill="#000" font-weight="bold" textLength="99.3" lengthAdjust="spacingAndGlyphs" transform="translate(1090.84 2530.80)">ALGAE5</text>
<text font-size="28" text-anchor="middle" fill="#000" font-weight="bold" textLength="113.5" lengthAdjust="spacingAndGlyphs" transform="translate(1224.28 2530.80)">EXTRACT</text>
<text font-size="28" text-anchor="middle" fill="#000" font-weight="bold" transform="translate(490.38 2588.80)">AI</text>
<text font-size="28" text-anchor="middle" fill="#000" font-weight="bold" transform="translate(1024.12 2588.80)">PI</text>
<text font-size="51.5" text-anchor="middle" fill="#1a1a1a" textLength="326" lengthAdjust="spacingAndGlyphs" transform="translate(136.60 2152.40) rotate(-90)">Shannon index</text>
</svg>
</body></html>
